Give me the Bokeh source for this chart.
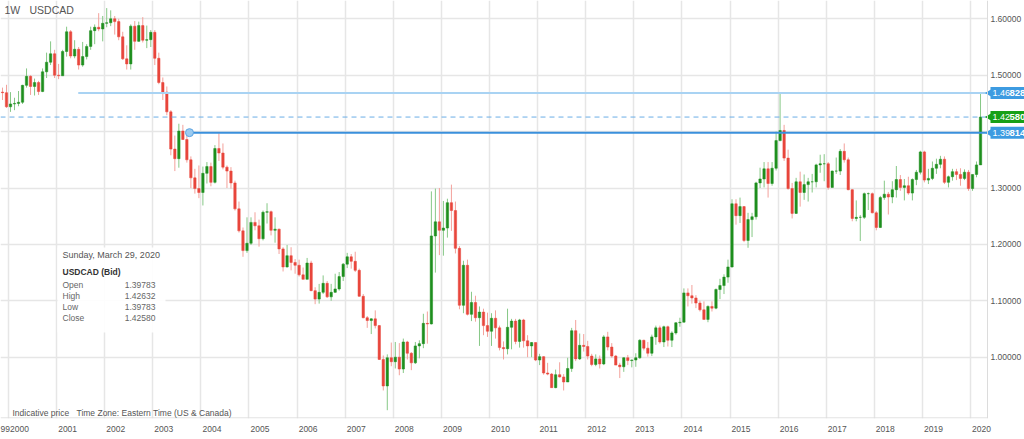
import math
from bokeh.plotting import figure
from bokeh.models import (Range1d, FixedTicker, Span, Label, BoxAnnotation, ColumnDataSource)
from bokeh.core.properties import value
from bokeh.embed import file_html
from bokeh.resources import INLINE
import pandas as pd

# ---------------- data (monthly OHLC, Nov 1999 .. Mar 2020) ----------------
title_parts = ["1W", "USDCAD"]
first_month = "1999-11-01"

open_ = [
    1.4700, 1.4690,
    1.4440, 1.4490, 1.4500, 1.4520, 1.4820, 1.4980, 1.4800, 1.4870, 1.4710, 1.5060, 1.5230, 1.5380,
    1.5000, 1.4990, 1.5420, 1.5770, 1.5340, 1.5460, 1.5180, 1.5330, 1.5510, 1.5790, 1.5850, 1.5820,
    1.5920, 1.5930, 1.6000, 1.5950, 1.5680, 1.5290, 1.5200, 1.5870, 1.5600, 1.5880, 1.5620, 1.5630,
    1.5760, 1.5300, 1.4870, 1.4700, 1.4350, 1.3690, 1.3520, 1.4010, 1.3860, 1.3500, 1.3180, 1.2990,
    1.2920, 1.3260, 1.3380, 1.3100, 1.3700, 1.3620, 1.3370, 1.3300, 1.3090, 1.2630, 1.2240, 1.1890,
    1.2020, 1.2390, 1.2330, 1.2100, 1.2570, 1.2580, 1.2250, 1.2270, 1.1920, 1.1600, 1.1800, 1.1680,
    1.1630, 1.1460, 1.1380, 1.1670, 1.1180, 1.1030, 1.1150, 1.1310, 1.1070, 1.1150, 1.1210, 1.1430,
    1.1650, 1.1780, 1.1700, 1.1540, 1.1080, 1.0700, 1.0650, 1.0680, 1.0560, 0.9960, 0.9490, 0.9990,
    0.9920, 1.0000, 0.9790, 1.0270, 1.0070, 0.9900, 1.0200, 1.0240, 1.0600, 1.0590, 1.2150, 1.2400,
    1.2250, 1.2290, 1.2740, 1.2600, 1.1930, 1.0920, 1.1630, 1.0760, 1.0970, 1.0700, 1.0800, 1.0560,
    1.0460, 1.0690, 1.0520, 1.0170, 1.0150, 1.0530, 1.0640, 1.0280, 1.0660, 1.0290, 1.0200, 1.0260,
    0.9950, 1.0010, 0.9720, 0.9700, 0.9460, 0.9690, 0.9650, 0.9560, 0.9800, 1.0470, 0.9970, 1.0210,
    1.0190, 1.0020, 0.9870, 0.9970, 0.9880, 1.0360, 1.0180, 1.0020, 0.9860, 0.9830, 0.9990, 0.9940,
    0.9950, 0.9990, 1.0300, 1.0160, 1.0070, 1.0360, 1.0520, 1.0270, 1.0540, 1.0300, 1.0430, 1.0610,
    1.0620, 1.1140, 1.1090, 1.1050, 1.0960, 1.0840, 1.0670, 1.0900, 1.0870, 1.1200, 1.1270, 1.1420,
    1.1600, 1.2720, 1.2510, 1.2670, 1.2070, 1.2440, 1.2490, 1.3090, 1.3160, 1.3340, 1.3080, 1.3350,
    1.3840, 1.4020, 1.3530, 1.2990, 1.2550, 1.3110, 1.2920, 1.3060, 1.3110, 1.3110, 1.3410, 1.3430,
    1.3430, 1.3010, 1.3300, 1.3300, 1.3650, 1.3500, 1.2970, 1.2460, 1.2480, 1.2480, 1.2900, 1.2900,
    1.2560, 1.2300, 1.2830, 1.2890, 1.2840, 1.2970, 1.3150, 1.3010, 1.3040, 1.2910, 1.3150, 1.3280,
    1.3640, 1.3140, 1.3170, 1.3350, 1.3420, 1.3510, 1.3100, 1.3200, 1.3290, 1.3240, 1.3170, 1.3280,
    1.2990, 1.3240, 1.3410,
]
high = [
    1.4780, 1.4830,
    1.4700, 1.4600, 1.4720, 1.4830, 1.5120, 1.5000, 1.4940, 1.4900, 1.5120, 1.5400, 1.5600, 1.5450,
    1.5200, 1.5450, 1.5860, 1.5800, 1.5620, 1.5500, 1.5590, 1.5550, 1.5860, 1.5900, 1.6100, 1.6050,
    1.6190, 1.6150, 1.6050, 1.6000, 1.5770, 1.5530, 1.5900, 1.5960, 1.5950, 1.6030, 1.5880, 1.5800,
    1.5800, 1.5400, 1.4960, 1.4800, 1.4380, 1.3930, 1.4140, 1.4120, 1.3950, 1.3560, 1.3340, 1.3400,
    1.3380, 1.3460, 1.3450, 1.3760, 1.3970, 1.3790, 1.3400, 1.3370, 1.3130, 1.2760, 1.2300, 1.2480,
    1.2480, 1.2570, 1.2440, 1.2600, 1.2730, 1.2600, 1.2480, 1.2280, 1.1950, 1.1990, 1.1950, 1.1740,
    1.1730, 1.1590, 1.1760, 1.1710, 1.1240, 1.1300, 1.1450, 1.1350, 1.1300, 1.1480, 1.1510, 1.1670,
    1.1850, 1.1830, 1.1870, 1.1570, 1.1120, 1.0730, 1.0690, 1.0830, 1.0570, 1.0030, 1.0050, 1.0260,
    1.0270, 1.0250, 1.0330, 1.0290, 1.0090, 1.0270, 1.0300, 1.0770, 1.0810, 1.2940, 1.2990, 1.3000,
    1.2770, 1.2810, 1.3060, 1.2760, 1.1970, 1.1710, 1.1730, 1.1160, 1.1090, 1.0900, 1.0860, 1.0790,
    1.0780, 1.0830, 1.0560, 1.0280, 1.0860, 1.0680, 1.0680, 1.0680, 1.0680, 1.0390, 1.0270, 1.0260,
    1.0060, 1.0020, 0.9900, 0.9720, 0.9780, 0.9910, 0.9700, 0.9990, 1.0520, 1.0660, 1.0420, 1.0410,
    1.0290, 1.0060, 1.0050, 1.0030, 1.0390, 1.0450, 1.0250, 1.0040, 0.9900, 1.0000, 1.0040, 0.9960,
    1.0070, 1.0320, 1.0310, 1.0270, 1.0400, 1.0560, 1.0560, 1.0560, 1.0560, 1.0460, 1.0620, 1.0700,
    1.1220, 1.1220, 1.1280, 1.1100, 1.1000, 1.0990, 1.0920, 1.0990, 1.1220, 1.1390, 1.1470, 1.1730,
    1.2800, 1.2800, 1.2830, 1.2680, 1.2560, 1.2560, 1.3110, 1.3360, 1.3460, 1.3460, 1.3460, 1.4000,
    1.4690, 1.4120, 1.3680, 1.3090, 1.3180, 1.3290, 1.3240, 1.3180, 1.3250, 1.3430, 1.3590, 1.3600,
    1.3460, 1.3310, 1.3540, 1.3690, 1.3790, 1.3540, 1.2980, 1.2780, 1.2520, 1.2920, 1.2920, 1.2920,
    1.2590, 1.2860, 1.3130, 1.2930, 1.3120, 1.3390, 1.3230, 1.3160, 1.3200, 1.3170, 1.3320, 1.3660,
    1.3660, 1.3340, 1.3470, 1.3520, 1.3570, 1.3560, 1.3220, 1.3340, 1.3340, 1.3350, 1.3330, 1.3320,
    1.3240, 1.3470, 1.4670,
]
low = [
    1.4560, 1.4420,
    1.4350, 1.4380, 1.4450, 1.4490, 1.4780, 1.4650, 1.4640, 1.4650, 1.4700, 1.4950, 1.5180, 1.4950,
    1.4930, 1.4990, 1.5330, 1.5300, 1.5300, 1.5100, 1.5150, 1.5280, 1.5450, 1.5550, 1.5780, 1.5600,
    1.5850, 1.5870, 1.5720, 1.5620, 1.5270, 1.5100, 1.5100, 1.5450, 1.5590, 1.5580, 1.5480, 1.5500,
    1.5180, 1.4840, 1.4560, 1.4290, 1.3580, 1.3300, 1.3360, 1.3850, 1.3450, 1.3000, 1.2900, 1.2820,
    1.2690, 1.3080, 1.3030, 1.3080, 1.3480, 1.3330, 1.3000, 1.2990, 1.2600, 1.2210, 1.1780, 1.1850,
    1.1990, 1.2250, 1.1960, 1.2070, 1.2370, 1.2160, 1.2030, 1.1830, 1.1520, 1.1590, 1.1540, 1.1480,
    1.1430, 1.1380, 1.1380, 1.1170, 1.0940, 1.0950, 1.1120, 1.1050, 1.1000, 1.1140, 1.1180, 1.1350,
    1.1580, 1.1570, 1.1510, 1.1070, 1.0690, 1.0520, 1.0410, 1.0510, 0.9950, 0.9410, 0.9060, 0.9840,
    0.9800, 0.9680, 0.9720, 0.9960, 0.9770, 0.9880, 0.9980, 1.0160, 1.0240, 1.0580, 1.1500, 1.1810,
    1.1800, 1.2120, 1.2240, 1.1840, 1.0850, 1.0780, 1.0740, 1.0640, 1.0630, 1.0200, 1.0390, 1.0360,
    1.0200, 1.0330, 1.0120, 0.9960, 1.0050, 1.0140, 1.0230, 1.0170, 1.0170, 1.0000, 1.0000, 0.9930,
    0.9860, 0.9690, 0.9680, 0.9460, 0.9450, 0.9640, 0.9410, 0.9560, 0.9740, 0.9930, 0.9950, 1.0100,
    0.9960, 0.9840, 0.9840, 0.9800, 0.9860, 1.0120, 0.9990, 0.9860, 0.9630, 0.9740, 0.9860, 0.9820,
    0.9830, 0.9970, 1.0120, 1.0010, 1.0020, 1.0220, 1.0240, 1.0180, 1.0190, 1.0180, 1.0400, 1.0540,
    1.0620, 1.0900, 1.0950, 1.0870, 1.0810, 1.0670, 1.0620, 1.0810, 1.0850, 1.1030, 1.1120, 1.1320,
    1.1590, 1.2350, 1.2380, 1.2040, 1.1940, 1.2130, 1.2440, 1.3000, 1.3010, 1.2830, 1.3040, 1.3310,
    1.3830, 1.3480, 1.2970, 1.2460, 1.2540, 1.2670, 1.2790, 1.2760, 1.2920, 1.3010, 1.3270, 1.3120,
    1.2970, 1.3010, 1.3250, 1.3230, 1.3450, 1.2960, 1.2410, 1.2410, 1.2060, 1.2450, 1.2610, 1.2550,
    1.2250, 1.2290, 1.2790, 1.2530, 1.2730, 1.2830, 1.2950, 1.2780, 1.2880, 1.2780, 1.3050, 1.3240,
    1.3100, 1.3070, 1.3140, 1.3250, 1.3350, 1.3070, 1.3010, 1.3130, 1.3140, 1.3040, 1.3140, 1.2950,
    1.2950, 1.3190, 1.3410,
]
close_ = [
    1.4690, 1.4440,
    1.4490, 1.4500, 1.4520, 1.4820, 1.4980, 1.4800, 1.4870, 1.4710, 1.5060, 1.5230, 1.5380, 1.5000,
    1.4990, 1.5420, 1.5770, 1.5340, 1.5460, 1.5180, 1.5330, 1.5510, 1.5790, 1.5850, 1.5820, 1.5920,
    1.5930, 1.6000, 1.5950, 1.5680, 1.5290, 1.5200, 1.5870, 1.5600, 1.5880, 1.5620, 1.5630, 1.5760,
    1.5300, 1.4870, 1.4700, 1.4350, 1.3690, 1.3520, 1.4010, 1.3860, 1.3500, 1.3180, 1.2990, 1.2920,
    1.3260, 1.3380, 1.3100, 1.3700, 1.3620, 1.3370, 1.3300, 1.3090, 1.2630, 1.2240, 1.1890, 1.2020,
    1.2390, 1.2330, 1.2100, 1.2570, 1.2580, 1.2250, 1.2270, 1.1920, 1.1600, 1.1800, 1.1680, 1.1630,
    1.1460, 1.1380, 1.1670, 1.1180, 1.1030, 1.1150, 1.1310, 1.1070, 1.1150, 1.1210, 1.1430, 1.1650,
    1.1780, 1.1700, 1.1540, 1.1080, 1.0700, 1.0650, 1.0680, 1.0560, 0.9960, 0.9490, 0.9990, 0.9920,
    1.0000, 0.9790, 1.0270, 1.0070, 0.9900, 1.0200, 1.0240, 1.0600, 1.0590, 1.2150, 1.2400, 1.2250,
    1.2290, 1.2740, 1.2600, 1.1930, 1.0920, 1.1630, 1.0760, 1.0970, 1.0700, 1.0800, 1.0560, 1.0460,
    1.0690, 1.0520, 1.0170, 1.0150, 1.0530, 1.0640, 1.0280, 1.0660, 1.0290, 1.0200, 1.0260, 0.9950,
    1.0010, 0.9720, 0.9700, 0.9460, 0.9690, 0.9650, 0.9560, 0.9800, 1.0470, 0.9970, 1.0210, 1.0190,
    1.0020, 0.9870, 0.9970, 0.9880, 1.0360, 1.0180, 1.0020, 0.9860, 0.9830, 0.9990, 0.9940, 0.9950,
    0.9990, 1.0300, 1.0160, 1.0070, 1.0360, 1.0520, 1.0270, 1.0540, 1.0300, 1.0430, 1.0610, 1.0620,
    1.1140, 1.1090, 1.1050, 1.0960, 1.0840, 1.0670, 1.0900, 1.0870, 1.1200, 1.1270, 1.1420, 1.1600,
    1.2720, 1.2510, 1.2670, 1.2070, 1.2440, 1.2490, 1.3090, 1.3160, 1.3340, 1.3080, 1.3350, 1.3840,
    1.4020, 1.3530, 1.2990, 1.2550, 1.3110, 1.2920, 1.3060, 1.3110, 1.3110, 1.3410, 1.3430, 1.3430,
    1.3010, 1.3300, 1.3300, 1.3650, 1.3500, 1.2970, 1.2460, 1.2480, 1.2480, 1.2900, 1.2900, 1.2560,
    1.2300, 1.2830, 1.2890, 1.2840, 1.2970, 1.3150, 1.3010, 1.3040, 1.2910, 1.3150, 1.3280, 1.3640,
    1.3140, 1.3170, 1.3350, 1.3420, 1.3510, 1.3100, 1.3200, 1.3290, 1.3240, 1.3170, 1.3280, 1.2990,
    1.3240, 1.3410, 1.4258,
]

year_ticks = list(range(2000, 2021))
year_labels = [str(y) for y in year_ticks]
price_ticks = [1.0, 1.1, 1.2, 1.3, 1.4, 1.5, 1.6]

# horizontal levels drawn on the chart
level_high, level_high_from = 1.46828, 2001.45
level_last = 1.42580
level_low, level_low_from = 1.39814, 2003.763
level_values = [level_high, level_last, level_low]
level_heads = ["1.46", "1.42", "1.39"]
level_tails = ["828", "580", "814"]

info_date = "Sunday, March 29, 2020"
info_title = "USDCAD (Bid)"
info_fields = ["Open", "High", "Low", "Close"]
info_values = ["1.39783", "1.42632", "1.39783", "1.42580"]
footer_texts = ["Indicative price", "Time Zone: Eastern Time (US & Canada)"]

# ---------------- layout helpers ----------------
W, H = 1024, 439
AXIS_PX = 987          # price-axis line (right edge of the candle area)
FRAME_H = 418          # x-axis line
X0, X_AXIS = 1999.8337, 2020.3534
X1 = X0 + W / AXIS_PX * (X_AXIS - X0)
Y0, Y1 = 0.89131, 1.63245


def px2x(px):
    return X0 + px / AXIS_PX * (X_AXIS - X0)


def py2y(py):
    return Y1 - py / FRAME_H * (Y1 - Y0)


DY = (Y1 - Y0) / FRAME_H   # price per pixel
FONT = "Liberation Sans"
UP, DOWN = "#1e8f1e", "#e8463c"
UP_W, DOWN_W = "#86c886", "#f3a19b"

months = pd.date_range(first_month, periods=len(close_), freq="MS")
t = [d.year + (d.month - 1) / 12 + 1 / 24 for d in months]
up = [c >= o for o, c in zip(open_, close_)]
src = ColumnDataSource(dict(
    t=t, high=high, low=low,
    top=[max(o, c) for o, c in zip(open_, close_)],
    bottom=[min(o, c) for o, c in zip(open_, close_)],
    color=[UP if u else DOWN for u in up],
    wick=[UP_W if u else DOWN_W for u in up],
))

p = figure(width=W, height=H, x_range=Range1d(X0, X1), y_range=Range1d(Y0, Y1),
           output_backend="svg", toolbar_location=None, y_axis_location=None,
           min_border_left=0, min_border_top=0, min_border_right=0, min_border_bottom=21,
           background_fill_color="white", border_fill_color="white", outline_line_color=None)

# grid
p.xgrid.ticker = FixedTicker(ticks=year_ticks)
p.ygrid.ticker = FixedTicker(ticks=price_ticks)
p.grid.grid_line_color = "#e6e6e6"
p.grid.grid_line_width = 1.5

# x axis: labels just right of each year gridline
label_ticks = [round(px2x(4.6), 4)] + [round(y + 0.229, 3) for y in year_ticks]
p.xaxis.ticker = FixedTicker(ticks=label_ticks)
p.xaxis.major_label_overrides = {lt: lab for lt, lab in zip(label_ticks, ["99"] + year_labels)}
ax = p.xaxis[0]
ax.axis_line_color = None
ax.major_tick_line_color = None
ax.minor_tick_line_color = None
ax.major_label_text_font = FONT
ax.major_label_text_font_size = "8.5px"
ax.major_label_text_color = "#555555"
ax.major_label_standoff = 1

# white price-scale strip right of the axis line
p.quad(left=[X_AXIS], right=[X1], bottom=[Y0], top=[Y1], fill_color="white", line_color=None)
p.add_layout(Span(location=X_AXIS, dimension="height", line_color="#dcdcdc", line_width=1))
# time-axis line, ending at the price axis
p.segment(x0=[X0], y0=[Y0 + 0.6 * DY], x1=[X_AXIS], y1=[Y0 + 0.6 * DY],
          line_color="#dcdcdc", line_width=1)

# price-scale labels
p.text(x=[X_AXIS] * len(price_ticks), y=price_ticks, text=["%.5f" % v for v in price_ticks],
       x_offset=3, text_font=value(FONT), text_font_size="8.5px", text_color="#555555",
       text_baseline="middle")

# candles
p.segment(x0="t", y0="high", x1="t", y1="low", line_color="wick", line_width=1, source=src)
p.vbar(x="t", width=0.05, top="top", bottom="bottom", fill_color="color",
       line_color="color", line_width=0.5, source=src)

# level lines
p.segment(x0=[level_high_from], y0=[level_high], x1=[X_AXIS], y1=[level_high],
          line_color="#a9d3f3", line_width=2)
p.segment(x0=[X0], y0=[level_last], x1=[X_AXIS], y1=[level_last],
          line_color="#6aaee6", line_dash="5 4", line_width=1)
p.segment(x0=[level_low_from], y0=[level_low], x1=[X_AXIS], y1=[level_low],
          line_color="#3a90dc", line_width=2)
p.scatter(x=[level_low_from], y=[level_low], size=8, fill_color="#9ccbf0",
          line_color="#5ea5e3", line_width=1)

# price tags on the right
tag_colors = ["#3d9be1", "#17a017", "#3d9be1"]
p.quad(left=[px2x(990)] * 3, right=[X1] * 3,
       bottom=[v - 6 * DY for v in level_values], top=[v + 6 * DY for v in level_values],
       fill_color=tag_colors, line_color=None)
p.scatter(x=[px2x(988.5)] * 3, y=level_values, marker="triangle", size=7,
          angle=math.pi / 2, fill_color=tag_colors, line_color=None)
for val, head, tail in zip(level_values, level_heads, level_tails):
    p.add_layout(Label(x=px2x(992), y=val, text=head, text_font=FONT,
                       text_font_size="9px", text_color="white", text_baseline="middle"))
    p.add_layout(Label(x=px2x(1009), y=val, text=tail, text_font=FONT,
                       text_font_size="9.5px", text_font_style="bold", text_color="white",
                       text_baseline="middle"))

# title
for txt, px in zip(title_parts, [4, 29]):
    p.add_layout(Label(x=px2x(px), y=py2y(9), text=txt, text_font=FONT,
                       text_font_size="10.5px", text_color="#555555", text_baseline="middle"))

# info box
p.add_layout(BoxAnnotation(left=px2x(57), right=px2x(165), top=py2y(247), bottom=py2y(332),
                           fill_color="white", fill_alpha=0.92, line_alpha=0))
p.add_layout(Label(x=px2x(62), y=py2y(254), text=info_date, text_font=FONT,
                   text_font_size="9px", text_color="#555555", text_baseline="middle"))
p.add_layout(Label(x=px2x(62), y=py2y(271), text=info_title, text_font=FONT,
                   text_font_size="8.5px", text_font_style="bold", text_color="#333333",
                   text_baseline="middle"))
for i, (f, v) in enumerate(zip(info_fields, info_values)):
    yy = py2y(284 + i * 11.3)
    p.add_layout(Label(x=px2x(62), y=yy, text=f, text_font=FONT, text_font_size="8.5px",
                       text_color="#666666", text_baseline="middle"))
    p.add_layout(Label(x=px2x(155), y=yy, text=v, text_font=FONT, text_font_size="8.5px",
                       text_color="#666666", text_baseline="middle", text_align="right"))

# footer
for txt, px in zip(footer_texts, [12, 76]):
    p.add_layout(Label(x=px2x(px), y=py2y(412), text=txt, text_font=FONT,
                       text_font_size="8.5px", text_color="#555555", text_baseline="middle"))

open("out.html", "w").write(file_html(p, INLINE))
